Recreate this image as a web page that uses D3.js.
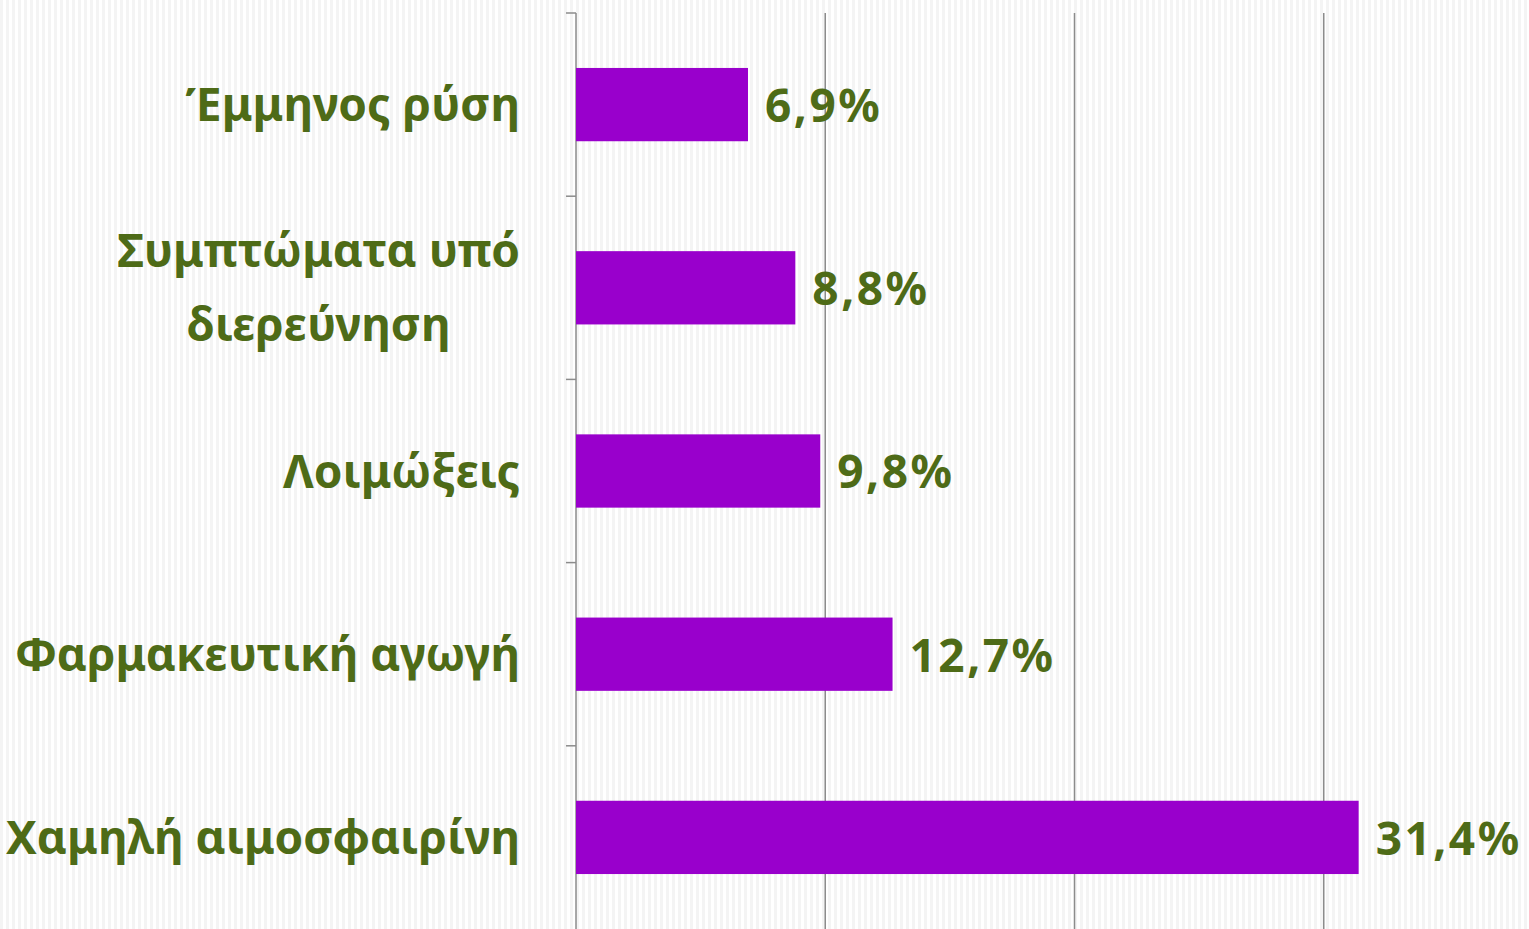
<!DOCTYPE html>
<html>
<head>
<meta charset="utf-8">
<script src="https://cdn.jsdelivr.net/npm/d3@7"></script>
<style>
  body { margin: 0; background: #fff; }
  svg { display: block; }
  text { font-family: "Comic Sans MS", "Noto Sans", "DejaVu Sans", sans-serif; font-weight: bold; }
</style>
</head>
<body>
<div id="chart"></div>
<script>
// Κατηγορίες και ποσοστά (από πάνω προς τα κάτω)
const categories = ["Έμμηνος ρύση", "Συμπτώματα υπό|διερεύνηση", "Λοιμώξεις", "Φαρμακευτική αγωγή", "Χαμηλή αιμοσφαιρίνη"];
const values = [6.9, 8.8, 9.8, 12.7, 31.4];
const xTicks = [0, 10, 20, 30];

const width = 1529, height = 929;
const margin = { top: 13, left: 576 };
const textColor = "#4e6b17";

const svg = d3.select("#chart").append("svg")
    .attr("width", width)
    .attr("height", height);

// fondo a rayas verticales
const pat = svg.append("defs").append("pattern")
    .attr("id", "stripes")
    .attr("width", 6).attr("height", 10)
    .attr("patternUnits", "userSpaceOnUse");
pat.append("rect").attr("width", 6).attr("height", 10).attr("fill", "#ffffff");
pat.append("rect").attr("width", 3).attr("height", 10).attr("fill", "#f4f4f4");
svg.append("rect").attr("width", width).attr("height", height).attr("fill", "url(#stripes)");

const x = d3.scaleLinear()
    .domain([0, 40])
    .range([margin.left, margin.left + 997]);

const y = d3.scaleBand()
    .domain(categories)
    .range([margin.top, margin.top + 916])
    .paddingInner(0.6)
    .paddingOuter(0.3);

// líneas de cuadrícula
svg.append("g")
    .selectAll("line")
    .data(xTicks.slice(1))
    .join("line")
    .attr("x1", d => x(d)).attr("x2", d => x(d))
    .attr("y1", margin.top).attr("y2", height)
    .attr("stroke", "#8c8c8c")
    .attr("stroke-width", 1.5);

// eje vertical con marcas entre categorías
const axis = svg.append("g");
axis.append("line")
    .attr("x1", x(0)).attr("x2", x(0))
    .attr("y1", margin.top).attr("y2", height)
    .attr("stroke", "#8c8c8c").attr("stroke-width", 1.5);
const step = y.step();
axis.selectAll(".tick")
    .data(categories)
    .join("line")
    .attr("class", "tick")
    .attr("x1", x(0) - 10).attr("x2", x(0))
    .attr("y1", d => y(d) - step * 0.3)
    .attr("y2", d => y(d) - step * 0.3)
    .attr("stroke", "#8c8c8c").attr("stroke-width", 1.5);

// barras
svg.selectAll(".bar")
    .data(categories)
    .join("rect")
    .attr("class", "bar")
    .attr("x", x(0))
    .attr("y", d => y(d))
    .attr("width", (d, i) => x(values[i]) - x(0))
    .attr("height", y.bandwidth())
    .attr("fill", "#9900cc");

// etiquetas de valor
svg.selectAll(".val")
    .data(categories)
    .join("text")
    .attr("class", "val")
    .attr("x", (d, i) => x(values[i]) + 17)
    .attr("y", d => y(d) + y.bandwidth() / 2)
    .attr("dy", "0.38em")
    .attr("font-size", 46)
    .attr("letter-spacing", 2.5)
    .attr("fill", textColor)
    .text((d, i) => values[i].toFixed(1).replace(".", ",") + "%");

// etiquetas de categoría
const labelRight = 520;
categories.forEach(c => {
    const lines = c.split("|");
    const cy = y(c) + y.bandwidth() / 2;
    const lineH = 74;
    const g = svg.append("g");
    const t = g.selectAll("text")
        .data(lines)
        .join("text")
        .attr("y", (l, i) => cy + (i - (lines.length - 1) / 2) * lineH)
        .attr("dy", "0.36em")
        .attr("font-size", 46)
        .attr("fill", textColor)
        .attr("text-anchor", "middle")
        .text(l => l);
    const maxW = d3.max(t.nodes(), n => n.getComputedTextLength());
    t.attr("x", labelRight - maxW / 2);
});
</script>
</body>
</html>
